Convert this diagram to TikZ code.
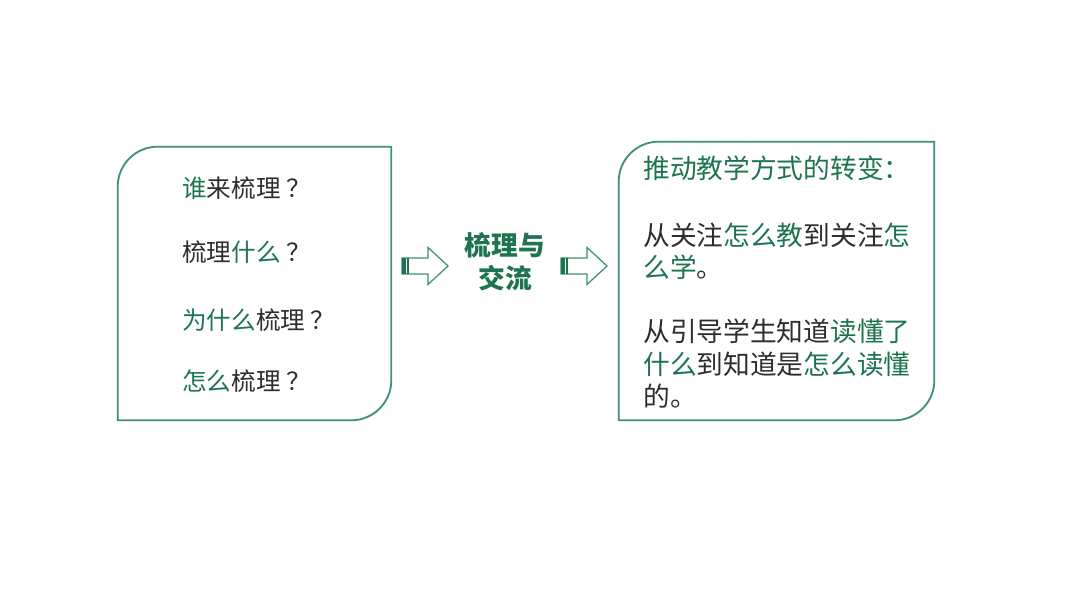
\documentclass[tikz,border=0pt]{standalone}
\usepackage{fontspec}
\setmainfont{Noto Sans CJK SC}
\usetikzlibrary{calc}
\definecolor{lgreen}{RGB}{62,146,112}
\definecolor{tgreen}{RGB}{30,116,80}
\definecolor{tgray}{RGB}{45,45,45}
\newcommand\grn[1]{\textcolor{tgreen}{#1}}
\newcommand\qm{\hspace{4pt}？}

\begin{document}
\begin{tikzpicture}[x=0.025cm,y=0.025cm,
  frame/.style={inner sep=0pt},
  frameline/.style={lgreen,line width=1.3pt},
  qline/.style={anchor=west,inner sep=0pt,text=tgray,font=\fontsize{17.5}{20}\selectfont},
  pline/.style={anchor=west,inner sep=0pt,text=tgray,font=\fontsize{19}{22}\selectfont}]
  \useasboundingbox (0,0) rectangle (1080,602);
  \node[frame,minimum width=6.825cm,minimum height=6.825cm] (leftbox) at (254.5,318.5) {};
  \node[frame,minimum width=7.875cm,minimum height=6.95cm] (rightbox) at (776.5,321) {};
  \foreach \b in {leftbox,rightbox}{
    \draw[frameline] (\b.south west) -- ([yshift=-1cm]\b.north west)
      arc[start angle=180,end angle=90,radius=1cm] -- (\b.north east)
      -- ([yshift=1cm]\b.south east) arc[start angle=0,end angle=-90,radius=1cm] -- cycle;
  }
  % block arrows
  \foreach \x in {402,561}{
    \draw[lgreen,line width=0.9pt,fill=white] (\x,344) -- (\x+26,344) -- (\x+26,354.5)
      -- (\x+46,336) -- (\x+26,317.5) -- (\x+26,328) -- (\x,328) -- cycle;
    \fill[tgreen] (\x,328) rectangle (\x+4,344);
    \draw[tgreen,line width=1pt] (\x+6,328) -- (\x+6,344);
  }
  \node[text=tgreen,font=\fontsize{19}{23.5}\selectfont\bfseries,align=center] (topic) at (505,340) {梳理与\\交流};
  % questions
  \foreach \y/\n/\txt in {
    414/q1/{\grn{谁}来梳理\qm},
    350/q2/{梳理\grn{什么}\qm},
    282/q3/{\grn{为什么}梳理\qm},
    221/q4/{\grn{怎么}梳理\qm}
  }{
    \node[qline] (\n) at (182,\y) {\txt};
  }
  % change of teaching
  \foreach \y/\n/\txt in {
    434/p1/{\grn{推动教学方式的转变：}},
    367/p2/{从关注\grn{怎么教}到关注\grn{怎}},
    335/p3/{\grn{么学}。},
    271/p4/{从引导学生知道\grn{读懂了}},
    238/p5/{\grn{什么}到知道是\grn{怎么读懂}},
    206/p6/{的。}
  }{
    \node[pline] (\n) at (643,\y) {\txt};
  }
\end{tikzpicture}
\end{document}
